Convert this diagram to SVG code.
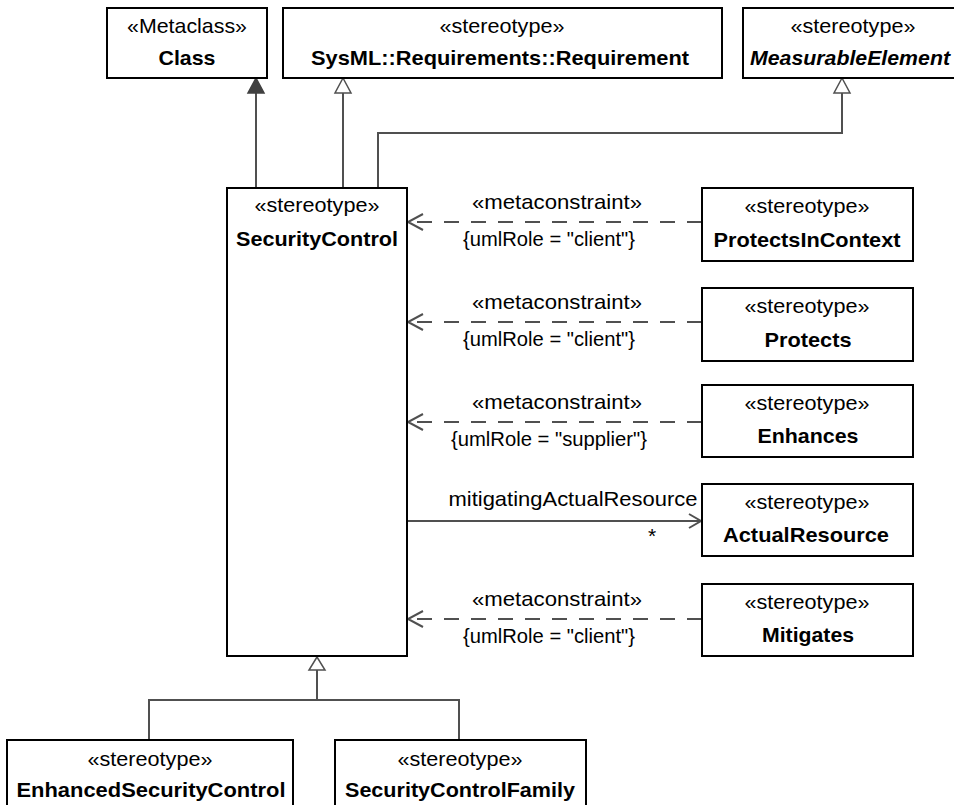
<svg xmlns="http://www.w3.org/2000/svg" width="954" height="805" viewBox="0 0 954 805">
<style>
.box{fill:#fff;stroke:#000;stroke-width:2}
.t{font-family:"Liberation Sans",Arial,sans-serif;font-size:21px;fill:#000;text-anchor:middle}
.b{font-weight:bold}
.i{font-style:italic}
.ln{fill:none;stroke:#505050;stroke-width:2}
.dash{stroke-dasharray:15 12}
.hollow{fill:#fff;stroke:#505050;stroke-width:1.5}
.filled{fill:#404040;stroke:#404040;stroke-width:1.5}
</style>
<rect width="954" height="805" fill="#fff"/>
<g id="connectors">
  <line class="ln" x1="256" y1="188" x2="256" y2="93"/>
  <polygon class="filled" points="256,78 248,93 264,93"/>
  <line class="ln" x1="343" y1="188" x2="343" y2="93"/>
  <polygon class="hollow" points="343,78 335,93 351,93"/>
  <polyline class="ln" points="378,188 378,133 842,133 842,93"/>
  <polygon class="hollow" points="842,78 834,93 850,93"/>
  <line class="ln dash" x1="702" y1="222" x2="409" y2="222"/>
  <polyline class="ln" points="423,214 408,222 423,230"/>
  <line class="ln dash" x1="702" y1="322" x2="409" y2="322"/>
  <polyline class="ln" points="423,314 408,322 423,330"/>
  <line class="ln dash" x1="702" y1="422" x2="409" y2="422"/>
  <polyline class="ln" points="423,414 408,422 423,430"/>
  <line class="ln dash" x1="702" y1="619" x2="409" y2="619"/>
  <polyline class="ln" points="423,611 408,619 423,627"/>
  <line class="ln" x1="407" y1="521" x2="701" y2="521"/>
  <polyline class="ln" points="689,514 701,521 689,528"/>
  <polygon class="hollow" points="317,657 309,670 325,670"/>
  <polyline class="ln" points="317,670 317,700"/>
  <polyline class="ln" points="149,740 149,700 459,700 459,740"/>
  <text class="t" x="557" y="209" textLength="170" lengthAdjust="spacingAndGlyphs">«metaconstraint»</text>
  <text class="t" x="549" y="246" textLength="172" lengthAdjust="spacingAndGlyphs">{umlRole = "client"}</text>
  <text class="t" x="557" y="309" textLength="170" lengthAdjust="spacingAndGlyphs">«metaconstraint»</text>
  <text class="t" x="549" y="346" textLength="172" lengthAdjust="spacingAndGlyphs">{umlRole = "client"}</text>
  <text class="t" x="557" y="409" textLength="170" lengthAdjust="spacingAndGlyphs">«metaconstraint»</text>
  <text class="t" x="549" y="446" textLength="196" lengthAdjust="spacingAndGlyphs">{umlRole = "supplier"}</text>
  <text class="t" x="573" y="506" textLength="249" lengthAdjust="spacingAndGlyphs">mitigatingActualResource</text>
  <text class="t" x="652" y="543">*</text>
  <text class="t" x="557" y="606" textLength="170" lengthAdjust="spacingAndGlyphs">«metaconstraint»</text>
  <text class="t" x="549" y="643" textLength="172" lengthAdjust="spacingAndGlyphs">{umlRole = "client"}</text>
</g>
<g id="Class">
  <rect class="box" x="107" y="8" width="160" height="70"/>
  <text class="t" x="187" y="33" textLength="120" lengthAdjust="spacingAndGlyphs">«Metaclass»</text>
  <text class="t b" x="187" y="65" textLength="57" lengthAdjust="spacingAndGlyphs">Class</text>
</g>
<g id="Requirement">
  <rect class="box" x="283" y="8" width="439" height="70"/>
  <text class="t" x="502" y="33" textLength="125" lengthAdjust="spacingAndGlyphs">«stereotype»</text>
  <text class="t b" x="500" y="65" textLength="378" lengthAdjust="spacingAndGlyphs">SysML::Requirements::Requirement</text>
</g>
<g id="MeasurableElement">
  <rect class="box" x="743" y="8" width="230" height="70"/>
  <text class="t" x="853" y="33" textLength="125" lengthAdjust="spacingAndGlyphs">«stereotype»</text>
  <text class="t b i" x="750" y="65" style="text-anchor:start" textLength="200" lengthAdjust="spacingAndGlyphs">MeasurableElement</text>
</g>
<g id="SecurityControl">
  <rect class="box" x="227" y="188" width="180" height="468"/>
  <text class="t" x="317" y="212" textLength="125" lengthAdjust="spacingAndGlyphs">«stereotype»</text>
  <text class="t b" x="317" y="246" textLength="162" lengthAdjust="spacingAndGlyphs">SecurityControl</text>
</g>
<g id="ProtectsInContext">
  <rect class="box" x="702" y="188" width="211" height="73"/>
  <text class="t" x="807" y="213" textLength="125" lengthAdjust="spacingAndGlyphs">«stereotype»</text>
  <text class="t b" x="807" y="247" textLength="187" lengthAdjust="spacingAndGlyphs">ProtectsInContext</text>
</g>
<g id="Protects">
  <rect class="box" x="702" y="288" width="211" height="73"/>
  <text class="t" x="807" y="313" textLength="125" lengthAdjust="spacingAndGlyphs">«stereotype»</text>
  <text class="t b" x="808" y="347" textLength="87" lengthAdjust="spacingAndGlyphs">Protects</text>
</g>
<g id="Enhances">
  <rect class="box" x="702" y="385" width="211" height="72"/>
  <text class="t" x="807" y="410" textLength="125" lengthAdjust="spacingAndGlyphs">«stereotype»</text>
  <text class="t b" x="808" y="443" textLength="101" lengthAdjust="spacingAndGlyphs">Enhances</text>
</g>
<g id="ActualResource">
  <rect class="box" x="702" y="484" width="211" height="72"/>
  <text class="t" x="807" y="509" textLength="125" lengthAdjust="spacingAndGlyphs">«stereotype»</text>
  <text class="t b" x="806" y="542" textLength="166" lengthAdjust="spacingAndGlyphs">ActualResource</text>
</g>
<g id="Mitigates">
  <rect class="box" x="702" y="584" width="211" height="72"/>
  <text class="t" x="807" y="609" textLength="125" lengthAdjust="spacingAndGlyphs">«stereotype»</text>
  <text class="t b" x="808" y="642" textLength="92" lengthAdjust="spacingAndGlyphs">Mitigates</text>
</g>
<g id="EnhancedSecurityControl">
  <rect class="box" x="7" y="740" width="286" height="80"/>
  <text class="t" x="150" y="766" textLength="125" lengthAdjust="spacingAndGlyphs">«stereotype»</text>
  <text class="t b" x="151" y="797" textLength="269" lengthAdjust="spacingAndGlyphs">EnhancedSecurityControl</text>
</g>
<g id="SecurityControlFamily">
  <rect class="box" x="335" y="740" width="251" height="80"/>
  <text class="t" x="460" y="766" textLength="125" lengthAdjust="spacingAndGlyphs">«stereotype»</text>
  <text class="t b" x="460" y="797" textLength="230" lengthAdjust="spacingAndGlyphs">SecurityControlFamily</text>
</g>
</svg>
